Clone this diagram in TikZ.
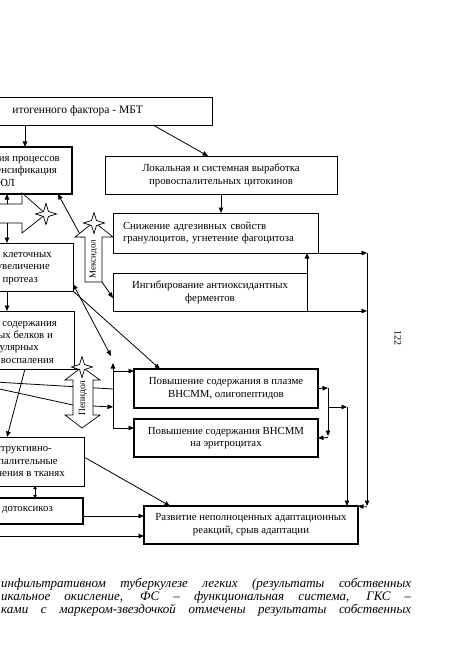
\documentclass[tikz,border=0pt]{standalone}
\usepackage{fontspec}
\setmainfont{Liberation Serif}
\usetikzlibrary{arrows.meta,shapes.geometric}
\begin{document}
\begin{tikzpicture}[x=1pt,y=-1pt,
  box/.style={draw, line width=0.8pt, fill=white, inner sep=0pt, outer sep=0pt, anchor=north west, font=\fontsize{10.8}{12.8}\selectfont, align=center},
  tbox/.style={box, line width=2.6pt},
  lbl/.style={inner sep=0pt, anchor=base east, font=\fontsize{10.8}{12.8}\selectfont},
  ln/.style={line width=0.8pt},
  arr/.style={ln, -{Triangle[length=5.5pt,width=4.5pt]}},
  darr/.style={ln, {Triangle[length=5.5pt,width=4.5pt]}-{Triangle[length=5.5pt,width=4.5pt]}},
  sdarr/.style={ln, {Triangle[length=3pt,width=3.5pt]}-{Triangle[length=3pt,width=3.5pt]}},
  starn/.style={star, star points=4, star point ratio=3, draw, line width=0.7pt, fill=white, minimum size=21pt, inner sep=0pt},
  blk/.style={draw, line width=0.7pt, fill=white},
  vtxt/.style={rotate=90, inner sep=0pt, font=\fontsize{9}{10}\selectfont},
  captxt/.style={anchor=base west, inner sep=0pt, font=\fontsize{13}{14}\itshape}
]
\useasboundingbox (0,0) rectangle (475,671);
\clip (0,0) rectangle (475,671);

% boxes
\node[box, minimum width=272pt, minimum height=28pt] (btop) at (-60,97) {};
\node[tbox, minimum width=132pt, minimum height=47pt] (b2) at (-60,147) {};
\node[box, minimum width=232pt, minimum height=38pt] (b3) at (105,156) {Локальная и системная выработка\\провоспалительных цитокинов};
\node[box, minimum width=205pt, minimum height=40pt, align=left, text width=185pt] (b4) at (113,213) {Снижение адгезивных свойств\\гранулоцитов, угнетение фагоцитоза};
\node[box, minimum width=194pt, minimum height=38pt] (b5) at (113,273) {Ингибирование антиоксидантных\\ферментов};
\node[box, minimum width=133pt, minimum height=48pt] (bkl) at (-60,243) {};
\node[box, minimum width=134pt, minimum height=58pt] (bsod) at (-60,311) {};
\node[tbox, minimum width=184pt, minimum height=39pt] (ba) at (134,369) {Повышение содержания в плазме\\ВНСММ, олигопептидов};
\node[tbox, minimum width=184pt, minimum height=38pt] (bb) at (134,419) {Повышение содержания ВНСММ\\на эритроцитах};
\node[box, minimum width=144pt, minimum height=49pt] (bstr) at (-60,437) {};
\node[tbox, minimum width=143pt, minimum height=26pt] (bdot) at (-60,498) {};
\node[tbox, minimum width=214pt, minimum height=38pt] (braz) at (144,506) {Развитие неполноценных адаптационных\\реакций, срыв адаптации};

% texts of cut boxes
\node[lbl, font=\fontsize{11.5}{13}\selectfont] (t0) at (143,114) {итогенного фактора - МБТ};
\node[lbl] (t21) at (60,161.5) {ия процессов};
\node[lbl] (t22) at (57,173.5) {енсификация};
\node[lbl] (t23) at (15,186.5) {ЮЛ};
\node[lbl] (t31) at (52,257.5) {клеточных};
\node[lbl] (t32) at (50,269.5) {увеличение};
\node[lbl] (t33) at (38,282.5) {протеаз};
\node[lbl] (t41) at (57,326.5) {содержания};
\node[lbl] (t42) at (53,338.5) {ых белков и};
\node[lbl] (t43) at (39,350.5) {улярных};
\node[lbl] (t44) at (54,363.5) {воспаления};
\node[lbl] (t51) at (52,451.5) {структивно-};
\node[lbl] (t52) at (58,464.5) {палительные};
\node[lbl] (t53) at (65,476.5) {нения в тканях};
\node[lbl] (t61) at (53,511.5) {дотоксикоз};

% connectors right part
\draw[arr] (25,0 |- btop.south) -- (25,0 |- b2.north);
\draw[arr] (153,0 |- btop.south) -- (208,0 |- b3.north);
\draw[arr] (221,0 |- b3.south) -- (221,0 |- b4.north);
\coordinate (rb) at (367,253);
\coordinate (rc) at (367,507);
\draw[arr] (b4.south east) -- (rb);
\draw[arr] (rb) -- (367,0 |- braz.north);
\draw[arr] (rc) -- (braz.north east);
\draw[arr] (b5.south east) -- (367,0 |- b5.south);
\draw[arr] (b5.south east) -- (b5.south east |- b4.south);
\coordinate (m1) at (328,388);
\coordinate (m2) at (328,407);
\coordinate (m3) at (347,407);
\draw[arr] (ba.east) -- (m1);
\draw[arr] (m1) -- (328,436);
\draw[arr] (328,437.5) -- (bb.east);
\draw[arr] (m2) -- (m3);
\draw[arr] (m3) -- (347,0 |- braz.north);

% connectors middle
\draw[arr] (82,238) -- (58,0 |- b2.south);
\draw[arr] (102,282) -- (b5.west |- 0,298);
\draw[darr] (bkl.east |- 0,284) -- (111,356);
\draw[arr] (bkl.south east) -- (160,0 |- ba.north);
\coordinate (bus1) at (113,428);
\draw[arr] (bus1) -- (113,363);
\draw[arr] (113,371) -- (ba.west |- 0,371);
\draw[arr] (bus1) -- (bb.west |- bus1);
\draw[ln] (-5,382) -- (113,389);
\draw[arr] (-5,388) -- (73,405) -- (113,407);
\draw[ln] (bsod.south east) -- (82,369);
\draw[arr] (7,0 |- bkl.south) -- (7,0 |- bsod.north);
\draw[arr] (25,0 |- bsod.south) -- (7,0 |- bstr.north);
\draw[arr] (bstr.east |- 0,457) -- (170,0 |- braz.north);
\draw[sdarr] (35,0 |- bstr.south) -- (35,0 |- bdot.north);
\draw[arr] (bdot.east |- 0,516) -- (braz.west |- 0,516);
\draw[arr] (-5,536) -- (braz.west |- 0,536);

% left block arrow
\draw[blk] (-5,204) -- (22,204) -- (22,193) -- (46,214) -- (22,233) -- (22,223) -- (-5,223) -- cycle;
\draw[arr] (7,204) -- (7,0 |- b2.south);
\draw[arr] (7,223) -- (7,0 |- bkl.north);

% Mexidol
\draw[blk] (85,282) -- (85,237) -- (75,237) -- (94,222) -- (113,237) -- (102,237) -- (102,282) -- cycle;
\node[vtxt] (mex) at (93.5,259) {Мексидол};

% Pepidol
\draw[blk] (82,367) -- (100,380) -- (93,380) -- (93,415) -- (100,415) -- (82,428) -- (65,415) -- (73,415) -- (73,380) -- (65,380) -- cycle;
\node[vtxt, font=\fontsize{9.5}{11}\selectfont] (pep) at (83,398) {Пепидол};

% stars
\node[starn] (s1) at (46,214) {};
\node[starn] (s2) at (94,223) {};
\node[starn] (s3) at (82,367) {};

% caption
\node[captxt] (c1) at (1,587) {\makebox[410pt][s]{инфильтративном туберкулезе легких (результаты собственных}};
\node[captxt] (c2) at (1,600) {\makebox[410pt][s]{икальное окисление, ФС – функциональная система, ГКС –}};
\node[captxt] (c3) at (1,613) {\makebox[410pt][s]{ками с маркером-звездочкой отмечены результаты собственных}};

\node[rotate=-90, inner sep=0pt, font=\fontsize{10}{12}\selectfont] (pn) at (398,338) {122};
\end{tikzpicture}
\end{document}
